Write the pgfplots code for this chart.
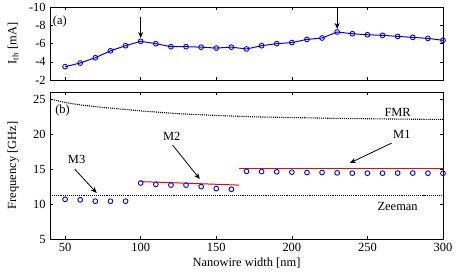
\documentclass[border=0pt]{standalone}
\usepackage{pgfplots}
\pgfplotsset{compat=1.18}
\usepackage{fontspec}
\setmainfont{Liberation Serif}
\usetikzlibrary{arrows.meta}
\begin{document}
\fontsize{12.5}{15}\selectfont
\begin{tikzpicture}[font=\fontsize{12.5}{15}\selectfont]
\pgfplotsset{
  every axis/.append style={
    scale only axis, width=393bp,
    xmin=40, xmax=300, xtick={50,100,...,300},
    tick align=inside, tick style={black, thin}, major tick length=3bp,
    axis line style={black, thin},
    /pgf/number format/assume math mode=true,
    tick label style={font=\fontsize{12.5}{15}\selectfont},
    label style={font=\fontsize{12.5}{15}\selectfont},
    every node/.append style={font=\fontsize{12.5}{15}\selectfont},
  }
}
\path[use as bounding box] (-50bp,-33bp) rectangle (407bp,239bp);
% top panel
\begin{axis}[at={(0,159bp)}, anchor=south west, height=73bp,
  ymin=-10, ymax=-2, y dir=reverse, ytick={-10,-8,-6,-4,-2},
  xticklabels={},
  ylabel={I\textsubscript{th} [mA]},
  ylabel style={at={(axis description cs:-0.094,0.5)}, anchor=center},
]
\addplot[blue, line width=1pt, mark=o, mark size=2.4pt, mark options={line width=0.9pt}] coordinates {
(50,-3.46) (60,-3.86) (70,-4.44) (80,-5.2) (90,-5.76) (100,-6.24) (110,-5.98)
(120,-5.65) (130,-5.65) (140,-5.6) (150,-5.5) (160,-5.6) (170,-5.4) (180,-5.76)
(190,-5.98) (200,-6.1) (210,-6.45) (220,-6.6) (230,-7.26) (240,-7.07) (250,-6.96)
(260,-6.89) (270,-6.78) (280,-6.67) (290,-6.56) (300,-6.35)
};
\draw[-{Stealth[length=6bp,width=5bp]}, thick] (axis cs:100,-8.9) -- (axis cs:100,-6.6);
\draw[-{Stealth[length=6bp,width=5bp]}, thick] (axis cs:230,-9.9) -- (axis cs:230,-7.6);
\node at (axis cs:46.5,-8.45) {(a)};
\end{axis}
% bottom panel
\begin{axis}[at={(0,0)}, anchor=south west, height=147bp,
  ymin=5, ymax=26, ytick={5,10,15,20,25},
  xlabel={Nanowire width [nm]},
  xlabel style={at={(axis description cs:0.5,-0.163)}, anchor=center},
  ylabel={Frequency [GHz]},
  ylabel style={at={(axis description cs:-0.094,0.5)}, anchor=center},
]
\addplot[black, densely dotted, line width=1.1pt] coordinates {
(40,25.0) (50,24.5) (60,24.15) (75,23.8) (100,23.3) (125,22.9) (150,22.65)
(175,22.45) (200,22.35) (225,22.25) (250,22.18) (275,22.12) (300,22.08)
};
\addplot[black, densely dotted, line width=1.1pt] coordinates {(40,11.24) (300,11.24)};
\addplot[red, line width=1pt] coordinates {(100,13.2) (165,12.7)};
\addplot[red, line width=1pt] coordinates {(165,15.1) (300,15.1)};
\addplot[only marks, blue, mark=o, mark size=2.4pt, mark options={line width=0.9pt}] coordinates {
(50,10.67) (60,10.6) (70,10.4) (80,10.4) (90,10.4)
(100,13.0) (110,12.8) (120,12.7) (130,12.7) (140,12.48) (150,12.2) (160,12.1)
(170,14.67) (180,14.63) (190,14.6) (200,14.55) (210,14.5) (220,14.5) (230,14.45)
(240,14.4) (250,14.4) (260,14.4) (270,14.42) (280,14.42) (290,14.4) (300,14.38)
};
\draw[-{Stealth[length=6bp,width=5bp]}, thick] (axis cs:266,18.7) -- (axis cs:238.4,15.86);
\draw[-{Stealth[length=6bp,width=5bp]}, thick] (axis cs:121.2,18.4) -- (axis cs:139.1,13.57);
\draw[-{Stealth[length=6bp,width=5bp]}, thick] (axis cs:56.3,15.0) -- (axis cs:70.9,11.57);
\node at (axis cs:48.3,23.4) {(b)};
\node at (axis cs:272.8,19.9) {M1};
\node at (axis cs:120.5,19.6) {M2};
\node at (axis cs:57.6,16.3) {M3};
\node at (axis cs:270,23.1) {FMR};
\node at (axis cs:270,9.7) {Zeeman};
\end{axis}
\end{tikzpicture}
\end{document}
